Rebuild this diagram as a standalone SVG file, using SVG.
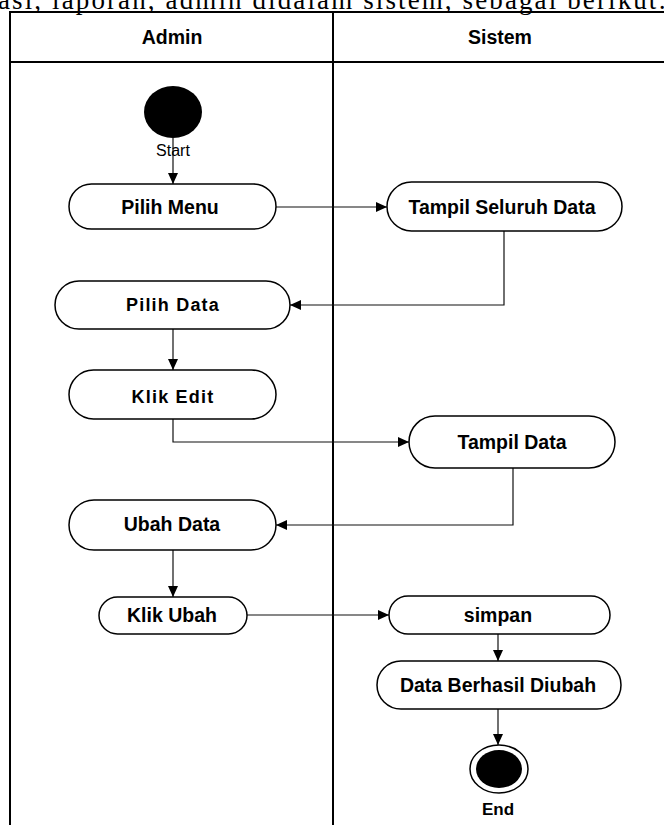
<svg xmlns="http://www.w3.org/2000/svg" width="664" height="825" viewBox="0 0 664 825">
  <style>
    .para { font-family: "Liberation Serif", "Times New Roman", serif; font-size: 27px; fill: #000; }
    .lane { fill: none; stroke: #000; stroke-width: 2; }
    .hdr { font-family: "Liberation Sans", Arial, sans-serif; font-size: 19.5px; font-weight: bold; fill: #000; text-anchor: middle; }
    .act { fill: #fff; stroke: #000; stroke-width: 1.5; }
    .lbl { font-family: "Liberation Sans", Arial, sans-serif; font-size: 19.5px; font-weight: bold; fill: #000; text-anchor: middle; dominant-baseline: central; }
    .wide { font-size: 18px; letter-spacing: 1.2px; }
    .small { font-family: "Liberation Sans", Arial, sans-serif; font-size: 16px; fill: #000; text-anchor: middle; }
    .endlbl { font-family: "Liberation Sans", Arial, sans-serif; font-size: 17px; font-weight: bold; fill: #000; text-anchor: middle; }
    .conn { fill: none; stroke: #111; stroke-width: 1.2; marker-end: url(#arrow); }
  </style>
  <defs>
    <marker id="arrow" markerUnits="userSpaceOnUse" markerWidth="12" markerHeight="10" refX="11" refY="5" orient="auto">
      <path d="M0,0 L11,5 L0,10 Z" fill="#000"/>
    </marker>
  </defs>

  <rect width="664" height="825" fill="#fff"/>

  <!-- running text above the figure (clipped by the page edge) -->
  <g id="caption">
    <text class="para" x="-2" y="9" textLength="668" lengthAdjust="spacing">asi, laporan, admin didalam sistem, sebagai berikut:</text>
  </g>

  <!-- swimlanes -->
  <g id="lanes">
    <path class="lane" d="M10,825 V12 H666 M333,12 V825 M10,62 H666"/>
    <text class="hdr" x="172" y="44">Admin</text>
    <text class="hdr" x="500" y="44">Sistem</text>
  </g>

  <!-- connectors -->
  <g id="connectors">
    <path class="conn" d="M173,138 V184"/>
    <path class="conn" d="M276,207 H387"/>
    <path class="conn" d="M504,231 V305 H290"/>
    <path class="conn" d="M173,329 V370"/>
    <path class="conn" d="M173,419 V442 H409"/>
    <path class="conn" d="M513,468 V525 H276"/>
    <path class="conn" d="M173,550 V597"/>
    <path class="conn" d="M247,615 H389"/>
    <path class="conn" d="M498,634 V661"/>
    <path class="conn" d="M498,709 V745"/>
  </g>

  <!-- nodes -->
  <g id="start">
    <ellipse cx="173" cy="112" rx="29" ry="26" fill="#000"/>
    <text class="small" x="173" y="156">Start</text>
  </g>

  <g id="pilih-menu">
    <rect class="act" x="69" y="184" width="207" height="45" rx="22.5"/>
    <text class="lbl" x="170" y="207">Pilih Menu</text>
  </g>

  <g id="tampil-seluruh-data">
    <rect class="act" x="387" y="182" width="235" height="49" rx="24.5"/>
    <text class="lbl" x="502" y="207">Tampil Seluruh Data</text>
  </g>

  <g id="pilih-data">
    <rect class="act" x="55" y="281" width="235" height="48" rx="24"/>
    <text class="lbl wide" x="173" y="305">Pilih Data</text>
  </g>

  <g id="klik-edit">
    <rect class="act" x="69" y="370" width="207" height="49" rx="24.5"/>
    <text class="lbl wide" x="173" y="397">Klik Edit</text>
  </g>

  <g id="tampil-data">
    <rect class="act" x="409" y="416" width="206" height="52" rx="26"/>
    <text class="lbl" x="512" y="442">Tampil Data</text>
  </g>

  <g id="ubah-data">
    <rect class="act" x="69" y="500" width="207" height="50" rx="25"/>
    <text class="lbl" x="172" y="524">Ubah Data</text>
  </g>

  <g id="klik-ubah">
    <rect class="act" x="99" y="597" width="148" height="37" rx="18.5"/>
    <text class="lbl" x="172" y="615">Klik Ubah</text>
  </g>

  <g id="simpan">
    <rect class="act" x="389" y="596" width="221" height="38" rx="19"/>
    <text class="lbl" x="498" y="615">simpan</text>
  </g>

  <g id="data-berhasil-diubah">
    <rect class="act" x="377" y="661" width="244" height="48" rx="24"/>
    <text class="lbl" x="498" y="685">Data Berhasil Diubah</text>
  </g>

  <g id="end">
    <ellipse cx="499" cy="769" rx="29" ry="24" fill="#fff" stroke="#000" stroke-width="1.5"/>
    <ellipse cx="499" cy="769" rx="23" ry="19" fill="#000"/>
    <text class="endlbl" x="498" y="815">End</text>
  </g>
</svg>
